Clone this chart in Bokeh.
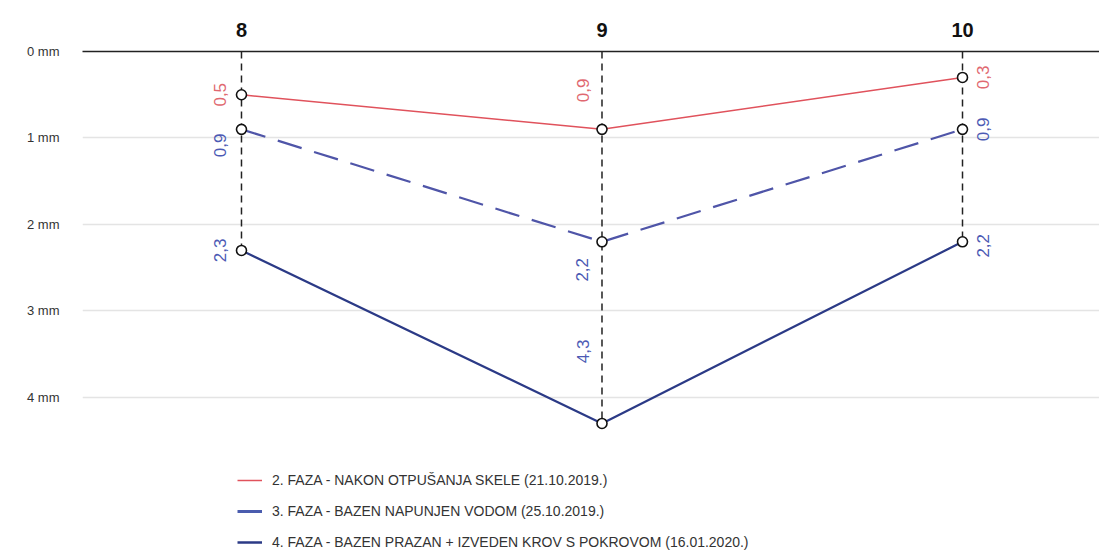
import numpy as np
from bokeh.plotting import figure
from bokeh.models import Range1d, FixedTicker, LinearAxis, Legend, LegendItem
from bokeh.core.properties import value
from bokeh.embed import file_html
from bokeh.resources import INLINE

# ---- data ----
points = [8, 9, 10]
point_labels = ["8", "9", "10"]
y_ticks = [0, 1, 2, 3, 4]
y_tick_labels = ["0 mm", "1 mm", "2 mm", "3 mm", "4 mm"]

series_names = [
    "2. FAZA - NAKON OTPUŠANJA SKELE (21.10.2019.)",
    "3. FAZA - BAZEN NAPUNJEN VODOM (25.10.2019.)",
    "4. FAZA - BAZEN PRAZAN + IZVEDEN KROV S POKROVOM (16.01.2020.)",
]
faza2 = [0.5, 0.9, 0.3]
faza3 = [0.9, 2.2, 0.9]
faza4 = [2.3, 4.3, 2.2]

# ---- styles ----
line_colors = ["#e0525c", "#4f55a8", "#2b3a86"]
legend_colors = ["#e0525c", "#4a5cae", "#2b3a86"]
line_dashes = ["solid", "25 13", "solid"]
line_widths = [1.5, 2.2, 2.2]
legend_widths = [1.5, 3, 2.5]
label_colors = ["#e06870", "#4c5ab4", "#4c5ab4"]
# per-label screen offsets (px) for each series
label_dx = [[-21, -19, 20], [-21, -20, 20], [-21, -19, 20]]
label_dy = [[0, -39, 0], [16, 28, 0], [0, -72, 4]]

p = figure(width=1099, height=552, output_backend="svg", toolbar_location=None,
           x_range=Range1d(7.559, 10.380), y_range=Range1d(5.792, 0),
           min_border_left=82, min_border_right=0, min_border_top=51, min_border_bottom=0,
           x_axis_location=None, y_axis_location=None)
p.outline_line_color = None
p.xgrid.visible = False

# left axis with mm labels
yax = LinearAxis(ticker=FixedTicker(ticks=y_ticks),
                 major_label_overrides={t: s for t, s in zip(y_ticks, y_tick_labels)})
yax.axis_line_color = None
yax.major_tick_line_color = None
yax.minor_tick_line_color = None
yax.major_label_standoff = 17
yax.major_label_text_font = "Liberation Sans"
yax.major_label_text_font_size = "13px"
yax.major_label_text_color = "#333333"
p.add_layout(yax, "left")

# top axis with point numbers; its line is the 0 mm line
xax = LinearAxis(ticker=FixedTicker(ticks=points),
                 major_label_overrides={t: s for t, s in zip(points, point_labels)})
xax.axis_line_color = "#222222"
xax.axis_line_width = 1.6
xax.major_tick_line_color = None
xax.minor_tick_line_color = None
xax.major_label_standoff = 9
xax.major_label_text_font = "Liberation Sans"
xax.major_label_text_font_style = "bold"
xax.major_label_text_font_size = "20px"
xax.major_label_text_color = "#111111"
p.add_layout(xax, "above")

p.ygrid.ticker = FixedTicker(ticks=y_ticks)
p.ygrid.grid_line_color = "#e4e4e4"
p.ygrid.grid_line_width = 1.3

all_series = [faza2, faza3, faza4]

# vertical dashed lines from 0 to the deepest reading
deep = np.max(np.array(all_series), axis=0)
p.segment(x0=points, y0=[0] * len(points), x1=points, y1=deep,
          line_color="#222222", line_width=1.5, line_dash="7 5")

for i, s in enumerate(all_series):
    p.line(points, s, line_color=line_colors[i], line_width=line_widths[i],
           line_dash=line_dashes[i])

# legend swatches (solid lines, as in the original legend); no visible data
legend_renderers = []
for i in range(len(all_series)):
    r = p.line(x=np.array([np.nan]), y=np.array([np.nan]),
               line_color=legend_colors[i], line_width=legend_widths[i])
    legend_renderers.append(r)

for i, s in enumerate(all_series):
    for j in range(len(points)):
        p.text(x=[points[j]], y=[s[j]], text=[("%.1f" % s[j]).replace(".", ",")],
               angle=np.pi / 2, text_align="center", text_baseline="middle",
               x_offset=label_dx[i][j], y_offset=label_dy[i][j],
               text_color=label_colors[i], text_font=value("Liberation Sans"),
               text_font_size="17px")

for s in all_series:
    p.scatter(points, s, size=10, marker="circle", fill_color="white",
              line_color="#111111", line_width=1.6)

legend = Legend(items=[LegendItem(label=n, renderers=[r]) for n, r in zip(series_names, legend_renderers)],
                location=(155, 0))
legend.padding = 0
legend.margin = 0
legend.border_line_color = None
legend.background_fill_alpha = 0
legend.glyph_width = 25
legend.glyph_height = 20
legend.label_height = 20
legend.spacing = 11
legend.label_standoff = 10
legend.label_text_font = "Liberation Sans"
legend.label_text_font_size = "14px"
legend.label_text_color = "#333333"
p.add_layout(legend, "center")

open("out.html", "w").write(file_html(p, INLINE))
